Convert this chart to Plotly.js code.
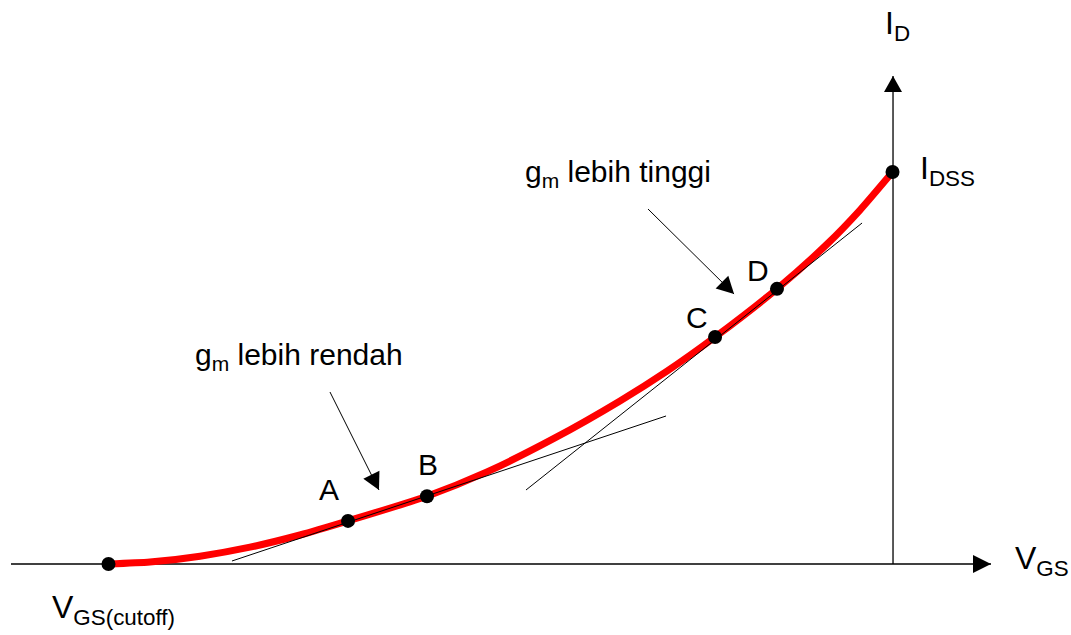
<!DOCTYPE html>
<html>
<head>
<meta charset="utf-8">
<script src="https://cdn.plot.ly/plotly-3.0.1.min.js"></script>
<style>html,body{margin:0;padding:0;background:#fff;}#chart{width:1071px;height:635px;}</style>
</head>
<body>
<div id="chart"></div>
<script>
// ---- data (VGS in units where cutoff = -8, ID in units where IDSS = 10) ----
const curveVgs = [-8.0, -7.577, -7.066, -6.556, -6.046, -5.556, -4.750, -4.138, -3.464, -2.781, -2.301, -1.811, -1.179, -0.668, -0.332, 0.0];
const curveId  = [0.0, 0.05, 0.20, 0.43, 0.74, 1.10, 1.73, 2.35, 3.19, 4.16, 4.92, 5.79, 7.02, 8.16, 9.03, 10.0];

const pointNames = ['A', 'B', 'C', 'D'];
const pointVgs = [-5.556, -4.750, -1.811, -1.179];
const pointId  = [1.10, 1.73, 5.79, 7.02];

const endVgs = [-8.0, 0.0];   // VGS(cutoff), IDSS
const endId  = [0.0, 10.0];

const tangentLowVgs  = [-6.740, -2.311];
const tangentLowId   = [0.077, 3.776];
const tangentHighVgs = [-3.740, -0.311];
const tangentHighId  = [1.888, 8.699];

const axisXVgs = [-8.995, 1.005];
const axisXId  = [0, 0];
const axisYVgs = [0.005, 0.005];
const axisYId  = [0, 12.449];

const noteLowVgs  = [-5.740, -5.240];
const noteLowId   = [4.388, 1.888];
const noteHighVgs = [-2.495, -1.617];
const noteHighId  = [9.056, 6.888];

const textLabels = ['g<sub>m</sub> lebih rendah', 'g<sub>m</sub> lebih tinggi', 'I<sub>D</sub>', 'I<sub>DSS</sub>', 'V<sub>GS</sub>', 'V<sub>GS(cutoff)</sub>'];
const textVgs = [-7.138, -3.770, -0.097, 0.260, 1.230, -8.597];
const textId  = [5.306, 9.974, 13.75, 10.03, 0.077, -1.173];

// ---- layout geometry ----
const W = 1071, H = 635;
const xRange = [-9.107, 1.821];
const yRange = [-1.811, 14.388];
const sx = W / (xRange[1] - xRange[0]);
const sy = H / (yRange[1] - yRange[0]);

function head(xs, ys, lenPx, halfPx) {
  const n = xs.length;
  const tx = xs[n - 1], ty = ys[n - 1];
  let dx = (tx - xs[n - 2]) * sx, dy = -(ty - ys[n - 2]) * sy;
  const L = Math.hypot(dx, dy); dx /= L; dy /= L;
  const bx = -dx * lenPx, by = -dy * lenPx;
  const p1 = [bx - dy * halfPx, by + dx * halfPx];
  const p2 = [bx + dy * halfPx, by - dx * halfPx];
  const toD = p => [tx + p[0] / sx, ty - p[1] / sy];
  const a = toD(p1), b = toD(p2);
  return {
    type: 'path', xref: 'x', yref: 'y',
    path: `M ${tx},${ty} L ${a[0]},${a[1]} L ${b[0]},${b[1]} Z`,
    fillcolor: '#000', line: {width: 0}, layer: 'above'
  };
}

const blackLine = (x, y, w) => ({x, y, mode: 'lines', line: {color: '#000', width: w}, hoverinfo: 'skip', showlegend: false});

const traces = [
  blackLine(axisXVgs, axisXId, 1.3),
  blackLine(axisYVgs, axisYId, 1.3),
  {x: curveVgs, y: curveId, mode: 'lines', line: {color: '#ff0000', width: 7, shape: 'spline', smoothing: 0.6}, hoverinfo: 'skip', showlegend: false},
  blackLine(tangentLowVgs, tangentLowId, 1),
  blackLine(tangentHighVgs, tangentHighId, 1),
  blackLine(noteLowVgs, noteLowId, 1),
  blackLine(noteHighVgs, noteHighId, 1),
  {x: pointVgs.concat(endVgs), y: pointId.concat(endId), mode: 'markers', marker: {color: '#000', size: 14}, hoverinfo: 'skip', showlegend: false}
];

const font = {family: '"Liberation Sans", Arial, sans-serif', color: '#000'};
const annotations = [];
pointNames.forEach((t, i) => {
  const off = [[-0.194, 0.81], [0.01, 0.82], [-0.184, 0.51], [-0.193, 0.48]][i];
  annotations.push({x: pointVgs[i] + off[0], y: pointId[i] + off[1], text: t, showarrow: false,
    xanchor: 'center', yanchor: 'middle', font: Object.assign({size: 30}, font)});
});
textLabels.forEach((t, i) => {
  const size = i < 2 ? 30 : 32;
  annotations.push({x: textVgs[i], y: textId[i], text: t, showarrow: false,
    xanchor: 'left', yanchor: 'middle', font: Object.assign({size}, font)});
});

const shapes = [
  head(axisXVgs, axisXId, 18, 9),
  head(axisYVgs, axisYId, 16, 9),
  head(noteLowVgs, noteLowId, 17, 9),
  head(noteHighVgs, noteHighId, 17, 9)
];

const layout = {
  width: W, height: H,
  margin: {l: 0, r: 0, t: 0, b: 0},
  paper_bgcolor: '#fff', plot_bgcolor: '#fff',
  xaxis: {range: xRange, visible: false, fixedrange: true},
  yaxis: {range: yRange, visible: false, fixedrange: true},
  showlegend: false,
  annotations, shapes
};

Plotly.newPlot('chart', traces, layout, {staticPlot: true, displayModeBar: false});
</script>
</body>
</html>
